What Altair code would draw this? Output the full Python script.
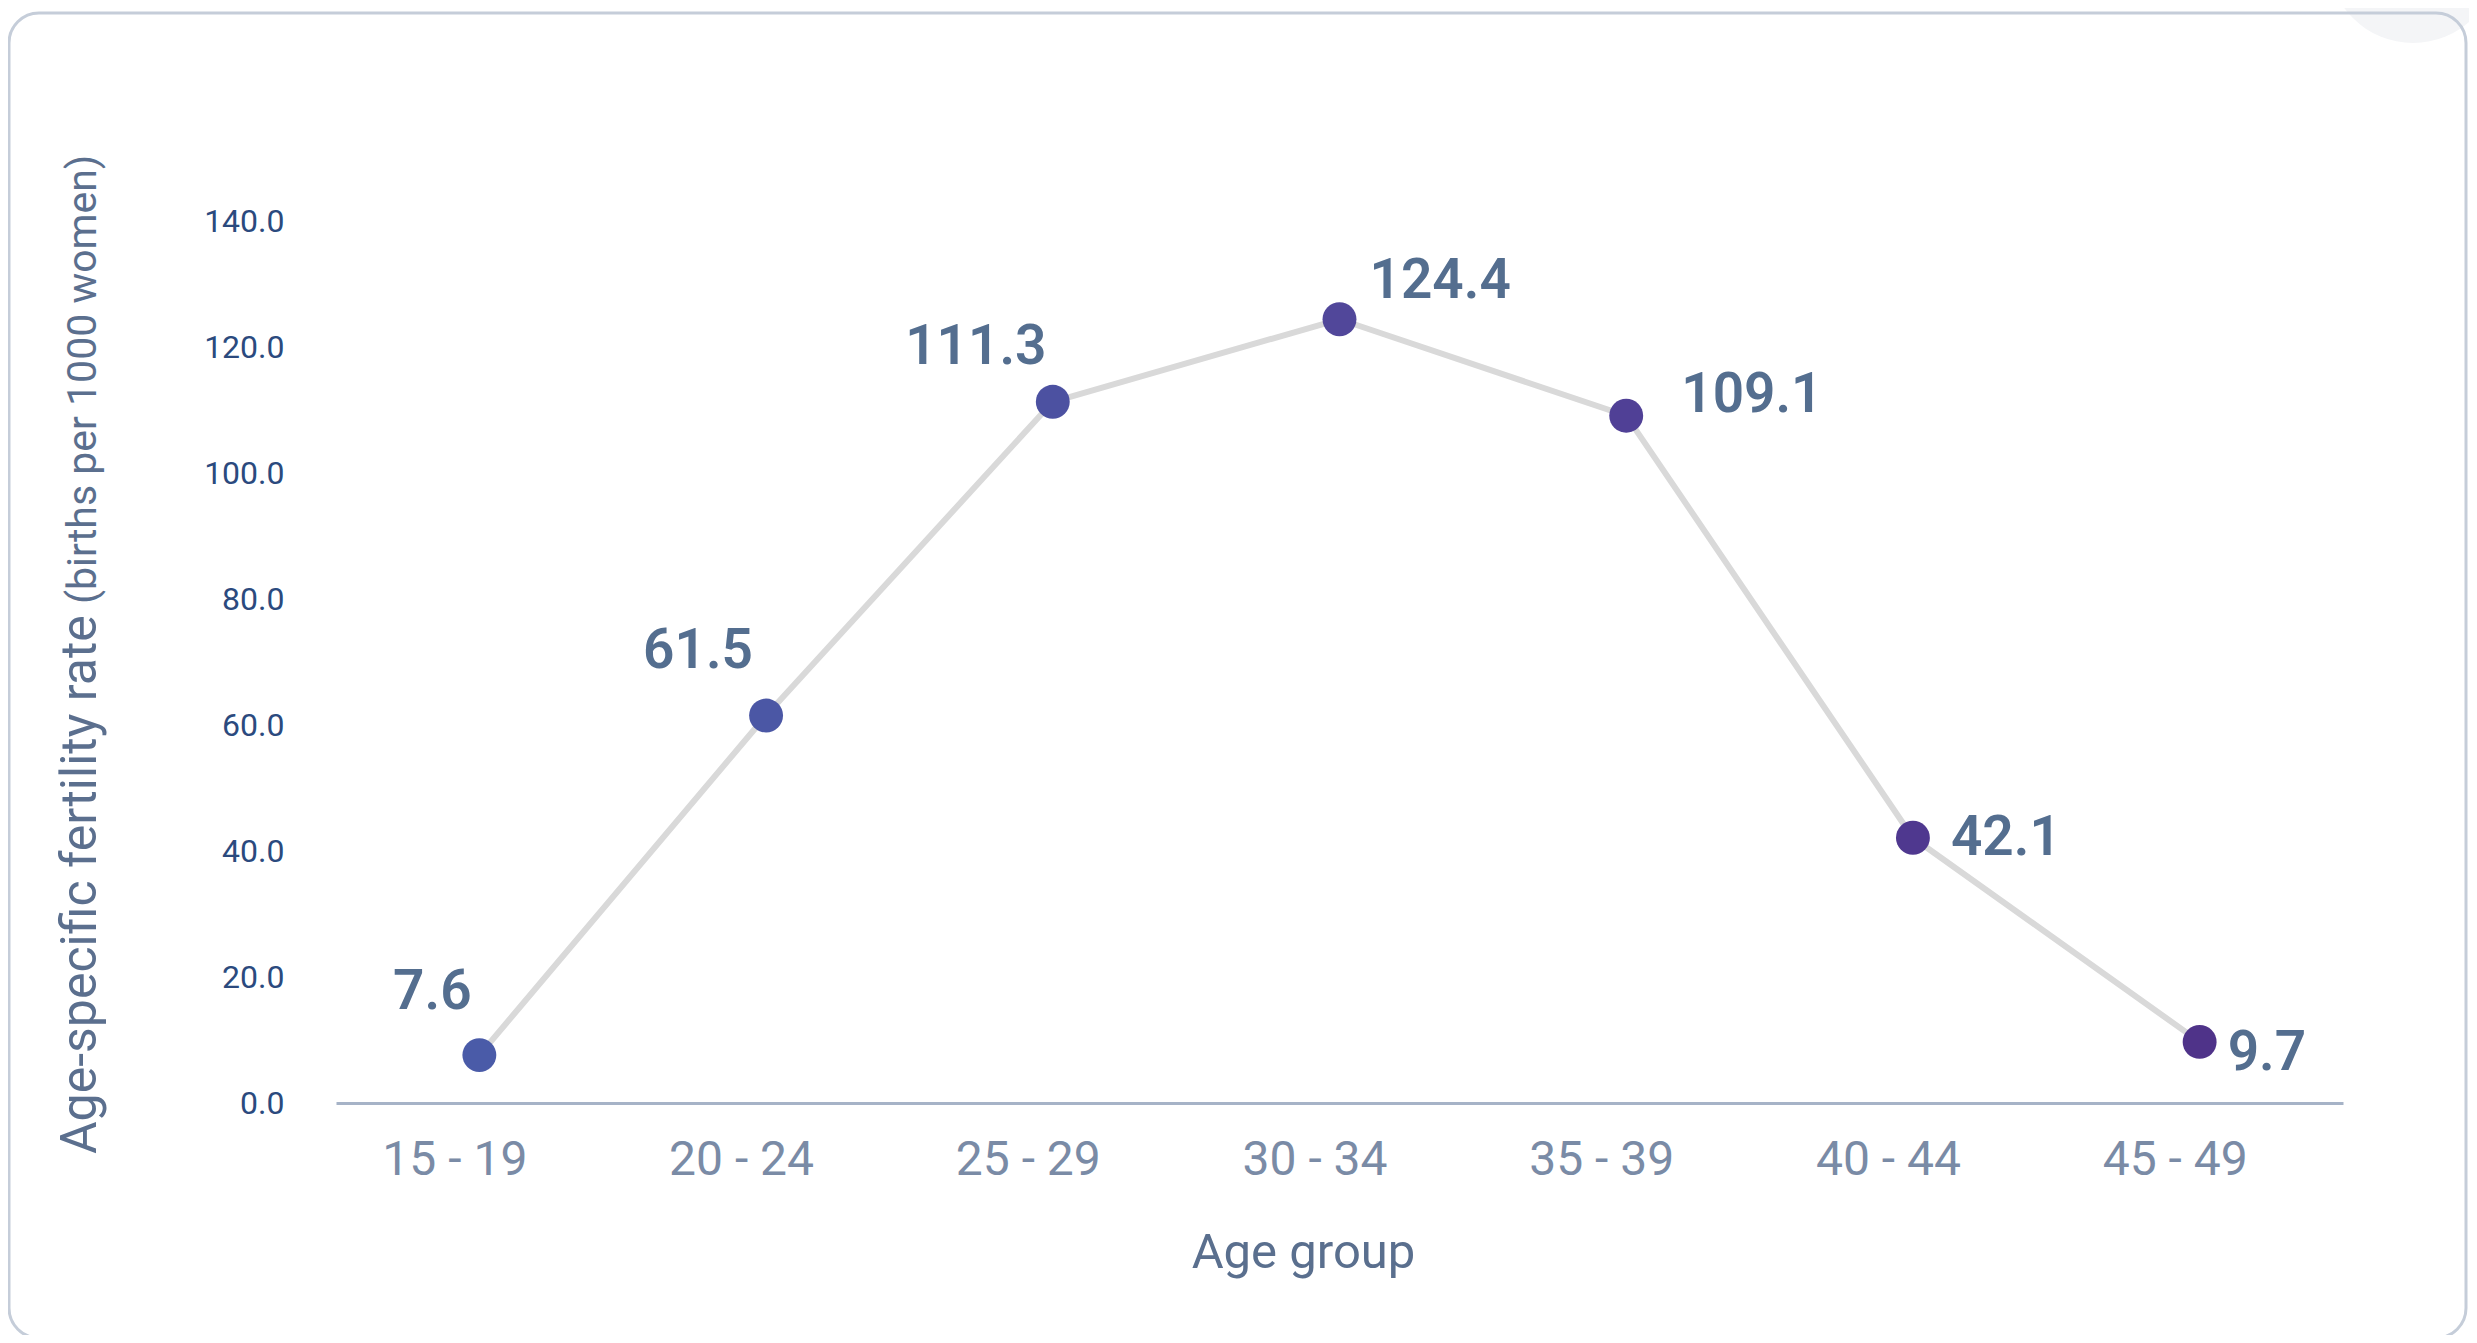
import altair as alt
import pandas as pd

# ---- data ----
age_groups = ["15 - 19", "20 - 24", "25 - 29", "30 - 34", "35 - 39", "40 - 44", "45 - 49"]
rates = [7.6, 61.5, 111.3, 124.4, 109.1, 42.1, 9.7]
point_colors = ["#4a5ba8", "#4b57a5", "#4c51a1", "#51479a", "#504096", "#4f388f", "#4f3389"]
y_ticks = [0, 20, 40, 60, 80, 100, 120, 140]

df = pd.DataFrame({"age": age_groups, "rate": rates, "color": point_colors})
one = pd.DataFrame({"d": [0]})

# ---- style ----
FONT = "Roboto"
W, H = 2007, 882
label_style = {
    "15 - 19": ("center", -47, -63),
    "20 - 24": ("center", -68, -65),
    "25 - 29": ("center", -77, -55),
    "30 - 34": ("left", 30, -38),
    "35 - 39": ("left", 55, -21),
    "40 - 44": ("left", 38, 0),
    "45 - 49": ("left", 28, 11),
}

x_enc = alt.X(
    "age:N",
    sort=age_groups,
    scale=alt.Scale(type="point", padding=0.5),
    axis=alt.Axis(
        title="Age group",
        titleFont=FONT, titleFontSize=49, titleFontWeight="normal",
        titleColor="#5a6f8e", titlePadding=44, titleX=967,
        labelFont=FONT, labelFontSize=48, labelColor="#7a8ba6",
        labelPadding=33, labelOffset=-25, labelAngle=0,
        ticks=False, grid=False,
        domainColor="#a6b3c7", domainWidth=3,
    ),
)
y_enc = alt.Y(
    "rate:Q",
    scale=alt.Scale(domain=[0, 140], nice=False),
    axis=alt.Axis(
        title=None, values=y_ticks, format=".1f",
        labelFont=FONT, labelFontSize=32, labelColor="#2b4a7e",
        labelPadding=52, tickSize=0, ticks=False, domain=False, grid=False,
    ),
)

deco_circle = alt.Chart(one).mark_circle(size=28900, color="#f4f5f7", opacity=1).encode(
    x=alt.value(2077), y=alt.value(-263)
)
frame = alt.Chart(one).mark_rect(
    fillOpacity=0, stroke="#c5cdd9", strokeWidth=3, cornerRadius=30
).encode(x=alt.value(-327), x2=alt.value(2130), y=alt.value(-208), y2=alt.value(1117))

line = alt.Chart(df).mark_line(color="#d9d9d9", strokeWidth=6).encode(x=x_enc, y=y_enc)
points = alt.Chart(df).mark_circle(size=1150, opacity=1).encode(
    x=alt.X("age:N", sort=age_groups), y="rate:Q", color=alt.Color("color:N", scale=None)
)

label_layers = []
for cat, (al, dx, dy) in label_style.items():
    label_layers.append(
        alt.Chart(df)
        .transform_filter(alt.datum.age == cat)
        .mark_text(align=al, baseline="middle", dx=dx, dy=dy, font=FONT,
                   fontSize=55, fontWeight=600, color="#546e8f")
        .encode(x=alt.X("age:N", sort=age_groups), y="rate:Q",
                text=alt.Text("rate:Q", format=".1f"))
    )

ytitle_main = alt.Chart(one).mark_text(
    angle=270, align="left", baseline="alphabetic", font=FONT, fontSize=50, color="#5b6f8e"
).encode(x=alt.value(-240), y=alt.value(933), text=alt.value("Age-specific fertility rate"))
ytitle_paren = alt.Chart(one).mark_text(
    angle=270, align="left", baseline="alphabetic", font=FONT, fontSize=41, color="#5b6f8e"
).encode(x=alt.value(-240), y=alt.value(383), text=alt.value("(births per 1000 women)"))

chart = alt.layer(
    deco_circle, frame, line, points, *label_layers, ytitle_main, ytitle_paren
).properties(
    width=W, height=H,
    padding={"left": 328, "top": 213, "right": 126, "bottom": 232},
    autosize=alt.AutoSizeParams(type="none"),
    background="white",
).configure_view(stroke=None)

chart.save("out.html", embed_options={"renderer": "svg", "actions": False})
